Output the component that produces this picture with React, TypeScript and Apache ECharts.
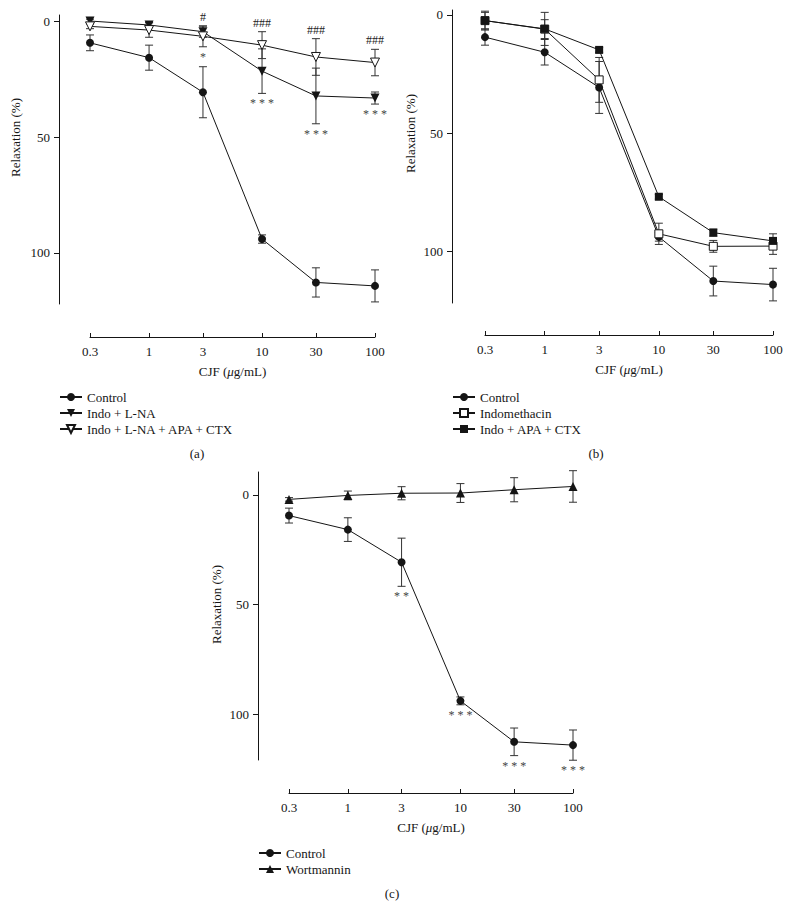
import React, { useEffect, useRef } from 'react';
import * as echarts from 'echarts';

// ---- data ----
const concentrations = [0.3, 1, 3, 10, 30, 100];
const xTickLabels = ['0.3', '1', '3', '10', '30', '100'];
const yTickValues = [0, 50, 100];

const controlMean = [9.4, 15.8, 30.7, 94.0, 112.7, 114.2];
const controlSem = [3.4, 5.4, 11.0, 1.8, 6.3, 6.9];

const indoLNAMean = [0.0, 1.7, 4.6, 21.6, 32.3, 33.2];
const indoLNASem = [0.8, 1.0, 2.4, 9.6, 12.0, 2.6];

const indoLNAApaCtxMean = [2.3, 3.9, 6.6, 10.4, 15.5, 17.9];
const indoLNAApaCtxSem = [1.0, 3.1, 4.5, 5.8, 7.9, 5.7];

const indomethacinMean = [2.4, 6.0, 27.5, 92.7, 98.0, 97.9];
const indomethacinSem = [3.5, 4.0, 9.5, 4.5, 2.5, 3.5];

const indoApaCtxMean = [2.4, 5.9, 14.8, 77.0, 92.2, 95.7];
const indoApaCtxSem = [4.0, 7.0, 1.0, 1.0, 1.5, 3.0];

const wortmanninMean = [2.0, 0.2, -0.8, -0.9, -2.4, -3.9];
const wortmanninSem = [0.8, 2.0, 3.0, 4.3, 5.5, 7.2];

const starsA = ['', '', '*', '***', '***', '***'];
const hashesA = ['', '', '#', '###', '###', '###'];
const starsC = ['', '', '**', '***', '***', '***'];

const legendA = ['Control', 'Indo + L-NA', 'Indo + L-NA + APA + CTX'];
const legendB = ['Control', 'Indomethacin', 'Indo + APA + CTX'];
const legendC = ['Control', 'Wortmannin'];
const captions = ['(a)', '(b)', '(c)'];

const FONT = '"Liberation Serif", "Times New Roman", serif';
const INK = '#151515';

function lineSeries(name: string, mean: number[], symbol: string, filled: boolean, rotate: number, idx: number, size = 8) {
  return {
    type: 'line',
    name,
    xAxisIndex: idx,
    yAxisIndex: idx,
    data: concentrations.map((c, i) => [c, mean[i]]),
    symbol,
    symbolSize: size,
    symbolRotate: rotate,
    showAllSymbol: true,
    lineStyle: { color: INK, width: 1 },
    itemStyle: { color: filled ? INK : '#ffffff', borderColor: INK, borderWidth: filled ? 0 : 1 },
    emphasis: { disabled: true },
    silent: true,
    z: 3,
  };
}

function errorSeries(mean: number[], sem: number[], idx: number) {
  return {
    type: 'custom',
    xAxisIndex: idx,
    yAxisIndex: idx,
    silent: true,
    z: 2,
    data: concentrations.map((c, i) => [c, mean[i] - sem[i], mean[i] + sem[i]]),
    encode: { x: 0, y: [1, 2] },
    renderItem: (params: any, api: any) => {
      const x = api.value(0);
      const p1 = api.coord([x, api.value(1)]);
      const p2 = api.coord([x, api.value(2)]);
      const w = 4;
      const style = { stroke: '#333', lineWidth: 1 };
      return {
        type: 'group',
        children: [
          { type: 'line', shape: { x1: p1[0], y1: p1[1], x2: p2[0], y2: p2[1] }, style },
          { type: 'line', shape: { x1: p1[0] - w, y1: p1[1], x2: p1[0] + w, y2: p1[1] }, style },
          { type: 'line', shape: { x1: p2[0] - w, y1: p2[1], x2: p2[0] + w, y2: p2[1] }, style },
        ],
      };
    },
  };
}

function annotationSeries(labels: string[], anchors: number[], dy: number, idx: number, color: string, spaced: boolean) {
  const items = labels
    .map((t, i) => ({ t, x: concentrations[i], v: anchors[i] }))
    .filter((d) => d.t);
  return {
    type: 'custom',
    xAxisIndex: idx,
    yAxisIndex: idx,
    silent: true,
    z: 4,
    data: items.map((d) => [d.x, d.v]),
    renderItem: (params: any, api: any) => {
      const p = api.coord([api.value(0), api.value(1)]);
      const raw = items[params.dataIndex].t;
      const text = spaced ? raw.split('').join(' ') : raw;
      return {
        type: 'text',
        x: p[0],
        y: p[1] + dy,
        style: { text, fill: color, font: `12px ${FONT}`, align: 'center', verticalAlign: 'middle' },
      };
    },
  };
}

function xAxis(idx: number, offset: number) {
  return {
    type: 'log',
    gridIndex: idx,
    logBase: 10,
    min: 0.3,
    max: 100,
    offset,
    position: 'bottom',
    axisLine: { show: true, onZero: false, lineStyle: { color: INK, width: 1 } },
    axisTick: { show: true, inside: true, length: 4, customValues: concentrations, lineStyle: { color: INK } },
    minorTick: { show: false },
    splitLine: { show: false },
    axisLabel: {
      customValues: concentrations,
      margin: 8,
      fontSize: 13,
      fontFamily: FONT,
      color: INK,
      formatter: (v: number) => {
        const i = concentrations.findIndex((c) => Math.abs(c - v) < 1e-6 * c);
        return i >= 0 ? xTickLabels[i] : '';
      },
    },
    name: '{n|CJF (}{i|μ}{n|g/mL)}',
    nameLocation: 'middle',
    nameGap: 28,
    nameTextStyle: {
      rich: {
        n: { fontSize: 13, fontFamily: FONT, color: INK },
        i: { fontSize: 13, fontFamily: FONT, fontStyle: 'italic', color: INK },
      },
    },
  };
}

function yAxis(idx: number, min: number, max: number, offset: number, nameGap: number, namePad: number) {
  return {
    type: 'value',
    gridIndex: idx,
    inverse: true,
    min,
    max,
    offset,
    position: 'left',
    axisLine: { show: true, onZero: false, lineStyle: { color: INK, width: 1 } },
    axisTick: { show: true, inside: false, length: 5, customValues: yTickValues, lineStyle: { color: INK } },
    splitLine: { show: false },
    axisLabel: { customValues: yTickValues, margin: 9, fontSize: 13, fontFamily: FONT, color: INK },
    name: 'Relaxation (%)',
    nameLocation: 'middle',
    nameGap,
    nameTextStyle: { fontSize: 13, fontFamily: FONT, color: INK, padding: [0, 0, 0, namePad] },
  };
}

function legend(left: number, top: number, data: string[]) {
  return {
    orient: 'vertical',
    left,
    top,
    data,
    padding: 0,
    itemWidth: 22,
    itemHeight: 10,
    itemGap: 0,
    selectedMode: false,
    textStyle: { fontSize: 13, fontFamily: FONT, color: INK, lineHeight: 16 },
  };
}

const maxAt = (a: number[], ae: number[], b: number[], be: number[]) =>
  concentrations.map((_, i) => Math.max(a[i] + ae[i], b[i] + be[i]));
const minAt = (a: number[], ae: number[], b: number[], be: number[]) =>
  concentrations.map((_, i) => Math.min(a[i] - ae[i], b[i] - be[i]));

export default function App() {
  const ref = useRef<HTMLDivElement>(null);

  useEffect(() => {
    if (!ref.current) return;
    const chart = echarts.init(ref.current, undefined, { renderer: 'svg' });

    const starAnchorA = maxAt(indoLNAMean, indoLNASem, indoLNAApaCtxMean, indoLNAApaCtxSem);
    const hashAnchorA = minAt(indoLNAMean, indoLNASem, indoLNAApaCtxMean, indoLNAApaCtxSem);
    const starAnchorC = concentrations.map((_, i) => controlMean[i] + controlSem[i]);

    const option: any = {
      animation: false,
      backgroundColor: '#ffffff',
      textStyle: { fontFamily: FONT },
      grid: [
        { left: 90, top: 15, width: 285, height: 289, outerBoundsMode: 'none' },
        { left: 485, top: 10, width: 288, height: 293, outerBoundsMode: 'none' },
        { left: 289, top: 472, width: 284, height: 288, outerBoundsMode: 'none' },
      ],
      xAxis: [xAxis(0, 33), xAxis(1, 32), xAxis(2, 33)],
      yAxis: [
        yAxis(0, -2.6, 122, 31, 37, 44),
        yAxis(1, -2.1, 122, 33, 35, 46),
        yAxis(2, -10.5, 121, 31, 35, 23),
      ],
      legend: [legend(59, 389, legendA), legend(452, 389, legendB), legend(258, 845, legendC)],
      graphic: [
        { type: 'text', x: 197, y: 453, style: { text: captions[0], font: `13px ${FONT}`, fill: INK, align: 'center', verticalAlign: 'middle' } },
        { type: 'text', x: 596, y: 453, style: { text: captions[1], font: `13px ${FONT}`, fill: INK, align: 'center', verticalAlign: 'middle' } },
        { type: 'text', x: 392, y: 893, style: { text: captions[2], font: `13px ${FONT}`, fill: INK, align: 'center', verticalAlign: 'middle' } },
      ],
      series: [
        // panel (a)
        errorSeries(controlMean, controlSem, 0),
        errorSeries(indoLNAMean, indoLNASem, 0),
        errorSeries(indoLNAApaCtxMean, indoLNAApaCtxSem, 0),
        lineSeries('Control', controlMean, 'circle', true, 0, 0),
        lineSeries('Indo + L-NA', indoLNAMean, 'triangle', true, 180, 0, 9),
        lineSeries('Indo + L-NA + APA + CTX', indoLNAApaCtxMean, 'triangle', false, 180, 0, 9),
        annotationSeries(starsA, starAnchorA, 10, 0, '#444', true),
        annotationSeries(hashesA, hashAnchorA, -9, 0, '#222', false),
        // panel (b)
        errorSeries(controlMean, controlSem, 1),
        errorSeries(indomethacinMean, indomethacinSem, 1),
        errorSeries(indoApaCtxMean, indoApaCtxSem, 1),
        lineSeries('Control', controlMean, 'circle', true, 0, 1),
        lineSeries('Indomethacin', indomethacinMean, 'rect', false, 0, 1),
        lineSeries('Indo + APA + CTX', indoApaCtxMean, 'rect', true, 0, 1),
        // panel (c)
        errorSeries(controlMean, controlSem, 2),
        errorSeries(wortmanninMean, wortmanninSem, 2),
        lineSeries('Control', controlMean, 'circle', true, 0, 2),
        lineSeries('Wortmannin', wortmanninMean, 'triangle', true, 0, 2, 9),
        annotationSeries(starsC, starAnchorC, 10, 2, '#444', true),
      ],
    };

    chart.setOption(option);
    return () => {
      chart.dispose();
    };
  }, []);

  return (
    <div
      ref={ref}
      style={{ position: 'absolute', left: 0, top: 0, width: 790, height: 906, background: '#fff' }}
    />
  );
}
